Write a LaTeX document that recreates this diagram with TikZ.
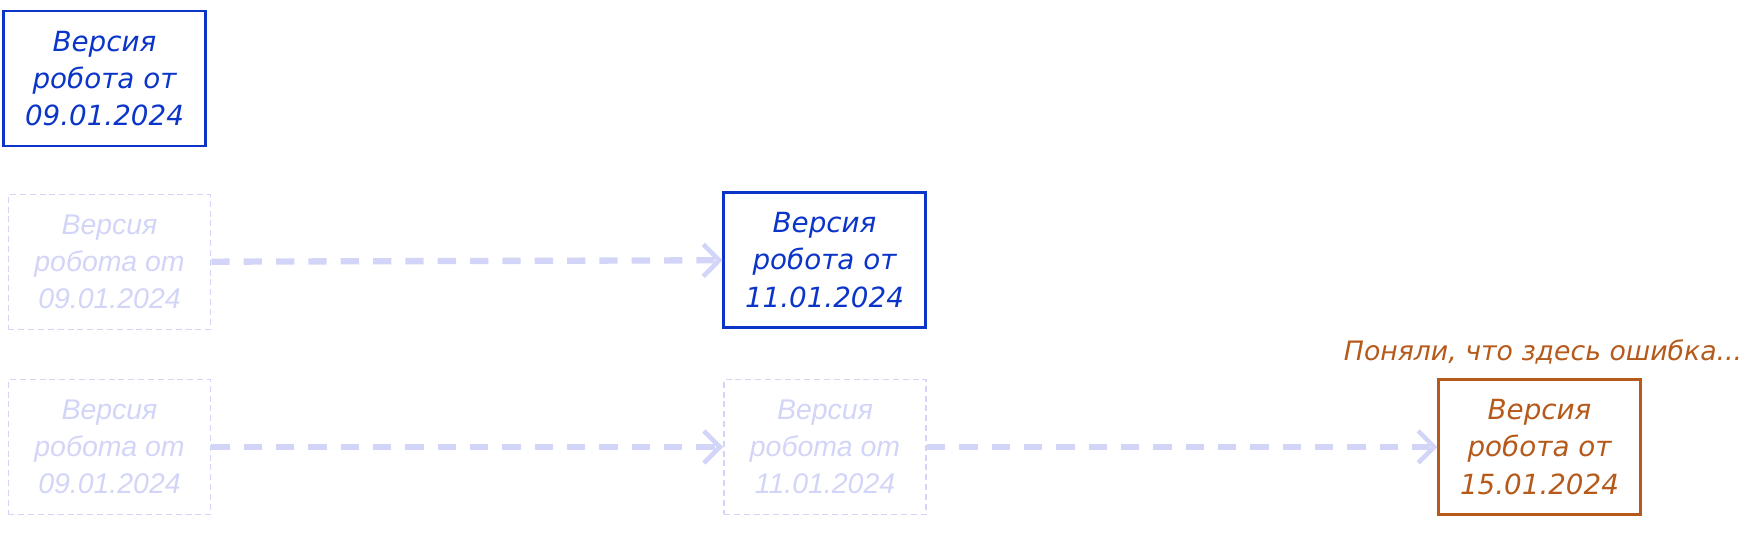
\documentclass[tikz,border=0pt]{standalone}
\usepackage{fontspec}
\setmainfont{DejaVu Sans}
\newfontfamily\fadefont{Liberation Sans}
\usetikzlibrary{arrows.meta}
\definecolor{vblue}{HTML}{0B35C8}
\definecolor{vfade}{HTML}{D2D5F7}
\definecolor{vorange}{HTML}{B65A1C}
\tikzset{>=latex}
\tikzset{version/.style = {shape=rectangle,draw,line width=0.6pt,minimum width=2.02cm,minimum height=1.35cm,
    inner sep=0pt,align=center,font=\fontsize{7.9}{10.6}\selectfont\itshape}}
\tikzset{oldversion/.style = {version,draw=vfade,text=vfade,line width=0.5pt,dash pattern=on 1.7pt off 1.1pt,
    font=\fontsize{8.1}{10.6}\fadefont\itshape}}
\tikzset{rollout/.style = {draw=vfade,line width=1.8pt,dash pattern=on 5.2pt off 4pt,
    -{Straight Barb[length=1.6mm,width=3.2mm,line width=1.3pt]}}}

\begin{document}
\begin{tikzpicture}
                    \useasboundingbox (0,0) rectangle (17.53,5.44);
                    \node[version,draw=vblue,text=vblue] (V1) at (1.045,4.655) {Версия\\робота от\\09.01.2024};

                    \node[oldversion] (V1a) at (1.095,2.82) {Версия\\робота от\\09.01.2024};
                    \node[version,draw=vblue,text=vblue] (V2) at (8.245,2.84) {Версия\\робота от\\11.01.2024};

                    \node[oldversion] (V1b) at (1.095,0.97) {Версия\\робота от\\09.01.2024};
                    \node[oldversion] (V2b) at (8.25,0.97) {Версия\\робота от\\11.01.2024};
                    \node[version,draw=vorange,text=vorange] (V3) at (15.395,0.97) {Версия\\робота от\\15.01.2024};
                    \node[text=vorange,font=\fontsize{7.6}{10.6}\selectfont\itshape] (bug) at (15.43,1.92) {Поняли, что здесь ошибка...};

                    \draw[rollout] (V1a) -- (V2);
                    \draw[rollout] (V1b) -- (V2b);
                    \draw[rollout] (V2b) -- (V3);
                \end{tikzpicture}
\end{document}
